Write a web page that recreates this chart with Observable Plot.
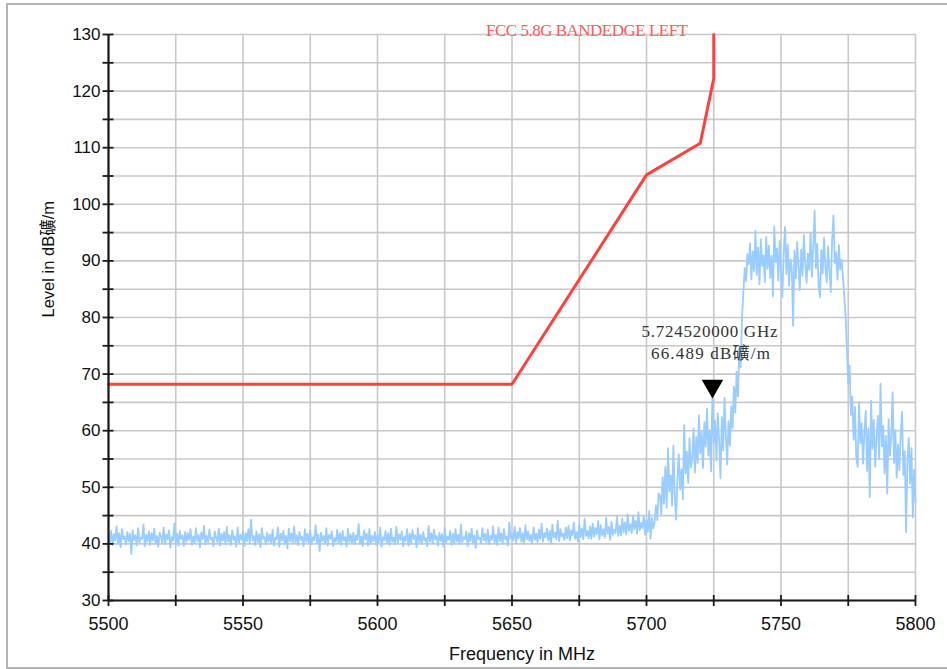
<!DOCTYPE html>
<html>
<head>
<meta charset="utf-8">
<script src="https://cdn.jsdelivr.net/npm/d3@7"></script>
<script src="https://cdn.jsdelivr.net/npm/@observablehq/plot@0.6"></script>
<style>
  html, body { margin: 0; padding: 0; background: #fff; }
  #wrap { position: relative; width: 947px; height: 669px; overflow: hidden; }
  #frame { position: absolute; left: 6px; top: 3px; width: 960px; height: 662px;
           border-top: 2px solid #b4b4b4; border-left: 2px solid #b4b4b4; border-bottom: 2px solid #b4b4b4; }
  #chart { position: absolute; left: 0; top: 0; }
</style>
</head>
<body>
<div id="wrap"><div id="frame"></div><div id="chart"></div></div>
<script>
// ---- Data ----
const titleText = "FCC 5.8G BANDEDGE LEFT";
const xLabel = "Frequency in MHz";
const yLabel = "Level in dB礦/m";
const xTicks = [5500, 5550, 5600, 5650, 5700, 5750, 5800];
const yTicks = [30, 40, 50, 60, 70, 80, 90, 100, 110, 120, 130];

// Limit line (FCC 15.407 band-edge mask)
const limitFreq  = [5500, 5650, 5700, 5720, 5725, 5725];
const limitLevel = [68.2, 68.2, 105.2, 110.8, 122.2, 130];

// Marker
const markerFreq = 5724.52;
const markerLevel = 66.489;
const markerLine1 = "5.724520000 GHz";
const markerLine2 = "66.489 dB礦/m";

// Measured trace: sweep 5500..5800 MHz, 0.5 MHz steps
const sweepStart = 5500, sweepStep = 0.5;
const levelsBaseline = [
41.2,40.1,42.3,39.8,41.7,40.6,43.1,40.2,41.9,39.4,42.6,40.8,41.3,39.9,42.1,40.5,41.8,38.2,42.4,40.7,
41.5,39.7,42.8,40.3,41.1,40.9,43.4,39.6,41.6,40.4,42.2,39.8,41.9,40.6,42.7,40.1,41.4,39.5,42.0,41.3,
40.2,42.9,39.9,41.7,40.8,42.4,39.3,41.2,40.6,43.6,40.0,41.8,39.7,42.3,40.9,41.5,39.6,42.1,40.4,41.9,
40.7,42.6,39.8,41.3,40.2,42.8,40.5,41.6,39.4,42.0,40.9,43.2,39.9,41.4,40.3,42.5,40.8,41.1,39.6,42.2,
41.0,40.3,42.7,39.7,41.8,40.6,42.1,39.9,43.0,40.4,41.5,39.8,42.4,40.7,41.3,39.5,42.9,40.2,41.6,40.8,
42.3,39.6,41.9,40.5,42.6,40.1,44.3,40.6,41.4,39.8,42.2,40.3,41.7,39.4,42.8,40.9,41.2,39.9,42.0,40.4,
41.6,40.2,42.5,39.7,41.1,40.8,42.9,39.5,41.8,40.6,42.3,40.0,41.4,39.2,42.7,40.5,41.9,40.1,43.1,40.3,
41.5,39.8,42.1,40.7,41.3,39.6,42.6,40.4,41.8,40.1,42.4,39.9,41.2,40.6,43.3,40.2,41.7,38.7,42.0,40.5,
41.4,40.0,42.8,39.7,41.6,40.9,42.2,39.6,41.0,40.4,42.5,40.1,41.9,39.8,42.3,40.6,41.2,39.5,42.7,40.3,
41.7,40.2,42.0,39.9,41.5,40.7,43.5,40.1,41.3,39.6,42.4,40.8,41.8,39.7,42.6,40.0,41.4,40.5,42.1,39.8,
41.6,40.3,42.9,39.5,41.2,40.6,42.3,40.1,41.9,39.8,42.7,40.4,41.1,39.9,43.0,40.2,41.7,40.7,42.2,39.6,
41.3,40.5,42.6,39.7,41.8,40.0,42.4,40.9,41.5,39.4,42.8,40.3,41.6,39.9,42.1,40.6,41.0,39.6,43.2,40.4,
41.9,40.1,42.5,40.8,41.4,39.7,42.0,40.5,41.7,39.5,42.9,40.2,41.3,40.7,42.3,39.8,41.8,40.0,42.6,40.4,
41.6,39.9,43.4,40.3,41.2,40.8,42.2,39.6,41.9,40.5,42.7,40.1,41.5,39.3,42.4,40.9,41.1,40.2,42.8,40.6,
41.8,40.3,42.5,39.9,41.4,40.7,43.1,40.2,41.6,39.8,42.9,40.5,41.9,40.0,42.6,40.8,41.3,39.7,43.8,40.9
];
const levelsSkirtLow = [
41.7,40.6,43.0,40.2,42.1,41.0,42.8,40.4,41.9,39.9,43.3,40.8,42.2,40.5,41.6,40.1,42.9,40.7,41.8,40.3,
42.5,40.9,43.6,40.4,41.9,41.2,42.7,40.6,42.3,40.0,43.4,41.1,42.0,40.8,44.1,40.5,42.6,41.3,41.8,40.7,
42.9,41.0,43.2,40.6,42.4,41.5,43.8,40.9,42.1,40.4,43.5,41.2,42.7,40.8,44.4,41.4,42.3,41.0,43.1,40.9,
43.6,41.3,42.8,41.7,44.0,40.8,43.3,41.5,42.6,41.1,44.6,41.8,43.0,40.7,43.9,41.6,42.5,41.9,44.8,41.4,
43.2,41.5,44.5,42.0,43.8,41.7,45.2,42.3,43.5,41.9,44.9,42.6,44.1,41.8,45.6,42.4,43.7,42.8,45.0,41.6,
44.3,42.2,45.8,40.9,44.6,42.7,43.9,46.8,44.2,48.9
];
const levelsSkirtMid = [
48.5,45.2,51.8,47.1,53.6,46.4,56.9,49.3,52.1,46.8,57.4,48.7,44.3,51.5,55.8,49.6,53.2,47.9,61.0,52.4,
56.3,50.8,58.7,53.5,
55.1,60.4,52.6,58.9,54.3,62.7,56.0,59.8,53.4,61.5,57.2,63.9,55.6,60.1,52.8,66.5,57.9,61.8,54.7,63.1,
58.3,51.6,62.4,56.5,65.8,59.2,54.0,61.7,57.4,64.3,60.5,67.8,63.2,70.4
];
const levelsChannel = [
66.1,74.5,71.2,79.8,84.3,88.7,86.4,91.2,
89.4,93.1,86.8,91.7,88.2,95.3,87.5,92.4,85.9,93.8,
89.1,91.0,86.3,94.2,88.6,92.7,87.0,90.9,83.7,96.1,
89.8,92.2,86.5,93.5,88.0,83.6,91.4,96.0,87.7,92.9,
85.6,90.3,88.9,78.6,91.8,86.9,93.3,89.2,84.8,92.0,
87.4,94.6,89.5,86.1,91.3,88.4,95.0,87.2,92.6,98.9,
88.7,93.0,85.4,83.6,91.9,87.8,94.1,89.0,86.2,92.5,
88.3,84.5,93.7,98.0,89.6,91.5,86.7,92.8,88.5,90.2,
87.3,84.0,80.2,74.6,68.3,71.5,62.8,66.0
];
const levelsSkirtHigh = [
58.4,64.2,55.1,53.6,65.0,57.8,61.3,54.2,59.7,63.5,
52.9,60.4,48.3,65.3,56.8,61.9,53.7,58.5,62.6,55.0,
68.3,57.2,60.8,52.4,59.1,48.9,62.0,55.6,58.9,66.8,
54.3,60.1,51.7,57.6,53.0,59.4,63.3,52.2,56.4,42.1,
54.8,58.7,50.6,56.9,44.7,53.1,47.5
];

// ---- Build tables ----
const levels = [...levelsBaseline, ...levelsSkirtLow, ...levelsSkirtMid, ...levelsChannel, ...levelsSkirtHigh];
const trace = levels.map((v, i) => ({f: sweepStart + i * sweepStep, v}));
const limit = limitFreq.map((f, i) => ({f, v: limitLevel[i]}));
const marker = [{f: markerFreq, v: markerLevel}];

const serif = "'Liberation Serif', 'Noto Sans CJK SC', serif";
const sans = "'Liberation Sans', Arial, 'Noto Sans CJK SC', sans-serif";

const chart = Plot.plot({
  width: 947,
  height: 669,
  marginLeft: 108,
  marginRight: 32,
  marginTop: 34,
  marginBottom: 69,
  style: {fontFamily: sans, background: "transparent", overflow: "visible"},
  x: {domain: [5500, 5800]},
  y: {domain: [30, 130]},
  marks: [
    Plot.gridX(d3.range(5500, 5801, 25), {stroke: "#c8c8c8", strokeOpacity: 1, strokeWidth: 1.6}),
    Plot.gridY(d3.range(30, 131, 5), {stroke: "#c8c8c8", strokeOpacity: 1, strokeWidth: 1.6}),
    Plot.line(trace, {x: "f", y: "v", stroke: "#99ccff", strokeWidth: 1.8, strokeLinejoin: "round"}),
    Plot.line(limit, {x: "f", y: "v", stroke: "#ff4040", strokeWidth: 3}),
    Plot.ruleX([5500], {stroke: "#1a1a1a", strokeWidth: 2.2}),
    Plot.ruleY([30], {stroke: "#1a1a1a", strokeWidth: 2.2}),
    // crossing tick marks (no labels)
    Plot.axisX({anchor: "bottom", ticks: d3.range(5500, 5801, 25), tickSize: 11, dy: -5, tickFormat: () => "", label: null, stroke: "#1a1a1a", strokeWidth: 1.8}),
    Plot.axisY({anchor: "left", ticks: d3.range(30, 131, 5), tickSize: 11, dx: 5.5, tickFormat: () => "", label: null, stroke: "#1a1a1a", strokeWidth: 1.8}),
    // tick labels
    Plot.axisX({anchor: "bottom", ticks: xTicks, tickSize: 0, tickPadding: 17, fontSize: 18, tickFormat: d => String(d), label: null, fill: "#111"}),
    Plot.axisY({anchor: "left", ticks: yTicks, tickSize: 0, tickPadding: 8, fontSize: 17, tickFormat: d => String(d), label: null, fill: "#111"}),
    // Axis titles
    Plot.text([xLabel], {frameAnchor: "bottom", dx: 10, dy: 59, text: d => d, fontSize: 18, fill: "#111"}),
    Plot.text([yLabel], {frameAnchor: "left", dx: -60, rotate: -90, text: d => d, fontSize: 16.5, fill: "#111"}),
    // Title
    Plot.text([titleText], {frameAnchor: "top", dx: 75, dy: -11, text: d => d, fontSize: 17, fill: "#ff5a5a", fontFamily: serif}),
    // Marker
    Plot.dot(marker, {x: "f", y: "v", symbol: "triangle", r: 8, fill: "#000", rotate: 180, dy: -8}),
    Plot.text(marker, {x: "f", y: "v", text: () => markerLine1, dy: -62, dx: -3, fontSize: 17, fill: "#333", fontFamily: serif}),
    Plot.text(marker, {x: "f", y: "v", text: () => markerLine2, dy: -40, dx: -2, fontSize: 17, fill: "#333", fontFamily: serif})
  ]
});
// widen the instrument-style (monospaced) labels to the reference widths
const fitWidths = new Map([[titleText, 202], [markerLine1, 136], [markerLine2, 119]]);
d3.select(chart).selectAll("text").each(function() {
  const w = fitWidths.get(this.textContent);
  if (w) d3.select(this).attr("textLength", w).attr("lengthAdjust", "spacing");
});
document.getElementById("chart").appendChild(chart);
</script>
</body>
</html>
